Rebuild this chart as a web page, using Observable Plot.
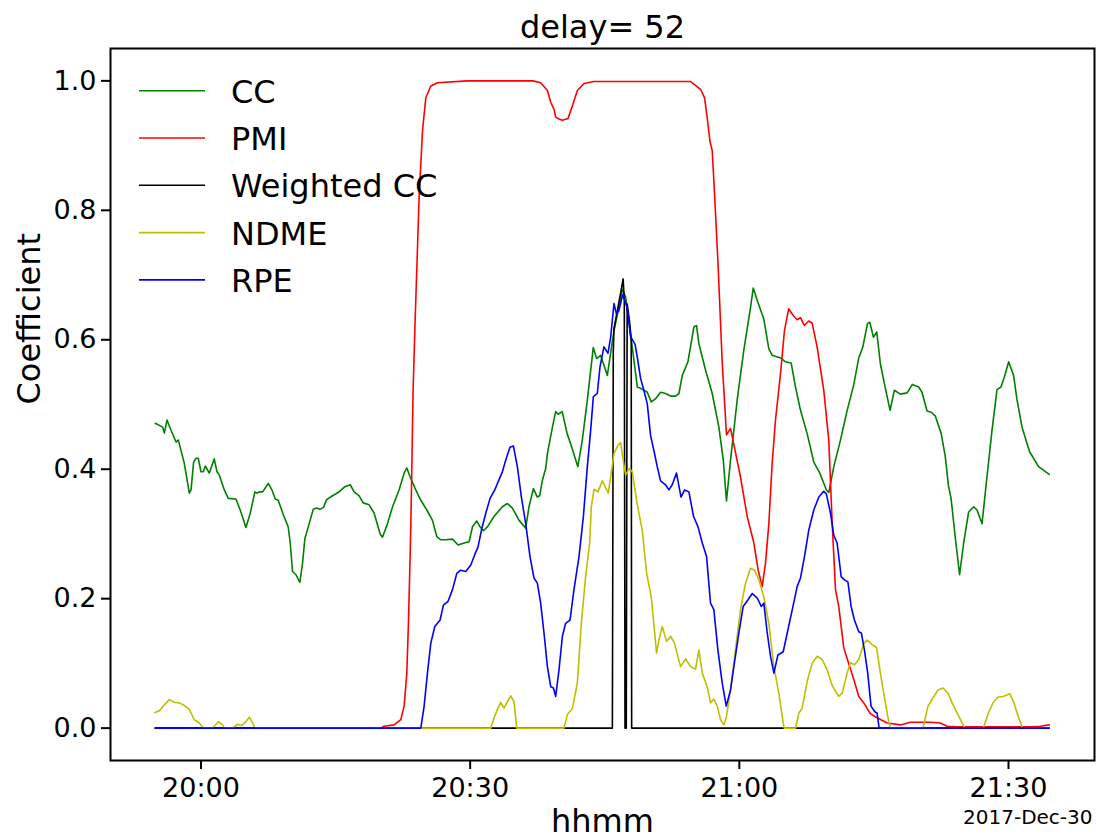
<!DOCTYPE html>
<html>
<head>
<meta charset="utf-8">
<script src="https://cdn.jsdelivr.net/npm/d3@7"></script>
<script src="https://cdn.jsdelivr.net/npm/@observablehq/plot@0.6"></script>
<style>
  html, body { margin: 0; padding: 0; background: white; }
  svg { display: block; }
</style>
</head>
<body>
<script>
// time: minutes relative to 20:00 on 2017-Dec-30; value: coefficient
const ccData = [[-5.1,0.471],[-4.27,0.465],[-4.08,0.456],[-3.79,0.476],[-3.42,0.463],[-2.78,0.442],[-2.52,0.445],[-1.86,0.409],[-1.3,0.363],[-1.11,0.368],[-0.82,0.411],[-0.56,0.417],[-0.3,0.417],[0.0,0.396],[0.26,0.396],[0.48,0.405],[0.93,0.394],[1.48,0.416],[1.78,0.396],[2.04,0.391],[2.6,0.368],[3.04,0.355],[3.9,0.354],[4.45,0.334],[5.01,0.310],[5.49,0.332],[6.01,0.365],[6.24,0.363],[6.5,0.365],[6.87,0.365],[7.5,0.378],[7.91,0.368],[8.28,0.354],[8.61,0.352],[9.2,0.329],[9.72,0.311],[9.95,0.286],[10.2,0.242],[10.58,0.237],[11.02,0.225],[11.32,0.255],[11.58,0.293],[12.06,0.316],[12.51,0.338],[12.88,0.340],[13.25,0.338],[13.66,0.341],[14.0,0.353],[14.66,0.359],[15.29,0.364],[16.04,0.373],[16.63,0.376],[17.07,0.365],[17.63,0.359],[18.07,0.348],[18.74,0.345],[19.3,0.332],[19.97,0.300],[20.23,0.295],[20.79,0.316],[21.35,0.342],[22.08,0.368],[22.64,0.394],[22.94,0.402],[23.31,0.388],[23.94,0.368],[24.5,0.352],[25.17,0.337],[25.8,0.321],[26.28,0.296],[26.73,0.291],[27.28,0.291],[28.03,0.292],[28.66,0.283],[29.33,0.286],[29.88,0.288],[30.26,0.311],[30.73,0.320],[31.1,0.311],[31.47,0.305],[31.92,0.311],[32.66,0.327],[33.59,0.342],[34.15,0.347],[34.71,0.340],[35.45,0.321],[36.19,0.309],[36.56,0.342],[37.05,0.370],[37.49,0.357],[37.75,0.359],[38.05,0.383],[38.42,0.401],[38.61,0.424],[39.17,0.465],[39.53,0.489],[39.81,0.485],[40.26,0.489],[40.81,0.455],[41.37,0.432],[42.0,0.404],[42.5,0.445],[43.06,0.507],[43.72,0.588],[44.1,0.571],[44.54,0.576],[45.29,0.545],[46.03,0.614],[46.5,0.645],[46.96,0.678],[47.33,0.666],[47.88,0.609],[48.63,0.527],[49.0,0.525],[49.36,0.522],[49.74,0.519],[50.18,0.504],[50.67,0.509],[51.22,0.519],[51.78,0.517],[52.34,0.513],[52.9,0.513],[53.27,0.517],[53.64,0.545],[54.27,0.566],[54.94,0.620],[55.23,0.622],[55.49,0.594],[56.24,0.553],[56.98,0.517],[57.72,0.465],[58.21,0.414],[58.57,0.351],[59.02,0.414],[59.76,0.507],[60.5,0.584],[61.25,0.650],[61.55,0.680],[61.99,0.661],[62.73,0.632],[63.29,0.586],[63.66,0.576],[64.59,0.572],[65.14,0.566],[65.78,0.564],[66.26,0.527],[66.82,0.491],[67.56,0.455],[68.3,0.411],[68.97,0.394],[69.71,0.368],[69.97,0.364],[70.53,0.404],[71.27,0.445],[72.02,0.491],[72.76,0.531],[73.31,0.572],[73.75,0.588],[74.28,0.625],[74.54,0.627],[74.95,0.604],[75.32,0.612],[75.72,0.563],[76.28,0.525],[76.8,0.491],[77.28,0.522],[77.95,0.516],[78.7,0.518],[79.28,0.531],[79.99,0.527],[80.36,0.519],[80.92,0.490],[81.4,0.488],[81.85,0.482],[82.5,0.455],[82.96,0.419],[83.3,0.375],[83.6,0.355],[84.08,0.293],[84.55,0.237],[85.0,0.286],[85.56,0.334],[86.12,0.342],[86.49,0.337],[87.05,0.316],[87.6,0.388],[88.16,0.460],[88.72,0.523],[89.16,0.527],[89.53,0.542],[90.02,0.566],[90.57,0.545],[90.95,0.507],[91.51,0.465],[92.35,0.427],[93.35,0.404],[94.54,0.392]];

const pmiData = [[-5.1,0],[20.0,0],[20.41,0.003],[21.53,0.005],[22.27,0.013],[22.64,0.034],[22.94,0.085],[23.12,0.162],[23.31,0.265],[23.46,0.368],[23.64,0.522],[23.85,0.622],[24.31,0.820],[24.69,0.923],[25.06,0.974],[25.61,0.992],[26.36,0.997],[29.7,1.0],[37.0,1.0],[37.86,0.997],[38.61,0.985],[38.98,0.967],[39.35,0.956],[39.53,0.944],[39.9,0.941],[40.28,0.939],[40.9,0.942],[41.39,0.961],[41.95,0.985],[42.69,0.996],[43.8,0.999],[54.57,0.999],[55.68,0.987],[56.12,0.974],[56.42,0.943],[56.72,0.907],[56.98,0.892],[57.16,0.846],[57.35,0.794],[57.61,0.722],[58.09,0.566],[58.57,0.453],[59.02,0.463],[59.39,0.438],[60.13,0.388],[60.88,0.327],[61.62,0.286],[62.1,0.244],[62.55,0.219],[62.92,0.255],[63.29,0.316],[63.66,0.409],[64.03,0.476],[64.59,0.548],[65.03,0.614],[65.5,0.648],[65.99,0.638],[66.44,0.631],[66.82,0.634],[67.26,0.622],[67.74,0.629],[68.11,0.626],[68.67,0.589],[69.41,0.522],[69.97,0.445],[70.35,0.316],[70.72,0.214],[71.08,0.188],[71.64,0.124],[72.19,0.100],[72.76,0.075],[73.31,0.049],[73.87,0.039],[74.61,0.022],[75.36,0.016],[76.47,0.008],[77.95,0.005],[79.06,0.009],[81.29,0.009],[82.41,0.008],[83.15,0.003],[84.26,0.002],[92.43,0.002],[93.54,0.003],[94.54,0.005]];

const wccData = [[-5.1,0],[45.85,0],[45.95,0.58],[46.03,0.617],[46.4,0.645],[46.77,0.672],[47.05,0.694],[47.18,0.66],[47.26,0],[47.4,0],[47.5,0.655],[47.75,0.63],[47.95,0.6],[48.0,0],[94.54,0]];

const ndmeData = [[-5.12,0.024],[-4.64,0.027],[-4.08,0.036],[-3.53,0.044],[-2.97,0.040],[-2.42,0.039],[-1.86,0.035],[-1.3,0.029],[-0.75,0.013],[-0.19,0.008],[0.11,0.003],[0.25,0],[1.3,0],[1.48,0.003],[1.93,0.010],[2.42,0.005],[2.6,0],[3.5,0],[3.71,0.002],[4.08,0.006],[4.53,0.004],[5.01,0.010],[5.38,0.017],[5.68,0.010],[5.94,0.002],[6.1,0],[32.29,0],[32.59,0.013],[33.04,0.029],[33.4,0.040],[33.77,0.031],[34.15,0.041],[34.52,0.050],[34.89,0.041],[35.19,0],[40.46,0],[40.83,0.021],[41.39,0.030],[41.95,0.070],[42.39,0.162],[42.87,0.234],[43.32,0.286],[43.5,0.342],[43.8,0.369],[44.24,0.365],[44.73,0.382],[45.4,0.363],[46.03,0.424],[46.47,0.437],[46.77,0.441],[47.1,0.410],[47.33,0.391],[47.7,0.401],[48.07,0.396],[48.63,0.345],[49.18,0.306],[49.67,0.239],[50.18,0.203],[50.78,0.116],[51.04,0.136],[51.41,0.157],[51.89,0.134],[52.34,0.142],[52.78,0.131],[53.45,0.095],[54.01,0.107],[54.57,0.095],[55.12,0.091],[55.49,0.121],[55.87,0.085],[56.42,0.064],[56.79,0.039],[57.16,0.045],[57.54,0.034],[57.91,0.013],[58.28,0.005],[58.57,0.018],[59.02,0.059],[59.57,0.121],[60.13,0.183],[60.69,0.224],[61.25,0.247],[61.69,0.244],[62.18,0.229],[62.73,0.203],[63.29,0.162],[63.85,0.095],[64.4,0.054],[64.89,0.008],[65.0,0],[66.26,0],[66.63,0.023],[67.0,0.031],[67.56,0.072],[68.11,0.100],[68.67,0.111],[69.23,0.106],[69.79,0.090],[70.35,0.066],[70.8,0.055],[71.08,0.049],[71.46,0.054],[72.02,0.085],[72.38,0.101],[72.83,0.098],[73.31,0.106],[73.87,0.131],[74.25,0.136],[74.8,0.129],[75.28,0.125],[75.72,0.085],[76.28,0.039],[76.65,0.010],[76.84,0],[80.47,0],[81.03,0.034],[81.59,0.047],[82.14,0.059],[82.7,0.062],[83.26,0.054],[83.82,0.036],[84.37,0.021],[85.12,0],[87.19,0],[87.75,0.023],[88.3,0.040],[88.86,0.048],[89.42,0.049],[90.16,0.053],[90.6,0.039],[91.09,0.018],[91.57,0],[94.54,0]];

const rpeData = [[-5.1,0],[24.5,0],[24.87,0.034],[25.24,0.085],[25.61,0.131],[26.06,0.157],[26.65,0.167],[27.02,0.190],[27.54,0.196],[28.03,0.214],[28.51,0.239],[28.95,0.244],[29.51,0.242],[30.07,0.252],[30.51,0.268],[30.88,0.280],[31.26,0.306],[31.74,0.332],[32.22,0.355],[32.74,0.368],[33.22,0.384],[33.59,0.396],[33.96,0.414],[34.44,0.434],[34.82,0.436],[35.26,0.404],[35.71,0.357],[36.19,0.316],[36.67,0.265],[37.11,0.232],[37.49,0.224],[37.86,0.193],[38.23,0.147],[38.61,0.095],[38.98,0.064],[39.28,0.062],[39.53,0.049],[39.9,0.090],[40.28,0.142],[40.64,0.162],[41.13,0.167],[41.57,0.214],[42.13,0.265],[42.62,0.327],[43.06,0.404],[43.43,0.460],[43.73,0.512],[44.17,0.517],[44.47,0.558],[44.91,0.589],[45.36,0.579],[45.66,0.604],[46.03,0.656],[46.3,0.640],[46.58,0.645],[47.0,0.670],[47.5,0.650],[47.88,0.605],[48.38,0.593],[48.63,0.573],[49.0,0.540],[49.36,0.522],[49.74,0.501],[50.11,0.452],[50.48,0.429],[50.85,0.404],[51.22,0.382],[51.78,0.376],[52.15,0.368],[52.52,0.376],[53.0,0.394],[53.5,0.357],[53.9,0.368],[54.38,0.365],[54.9,0.327],[55.4,0.311],[55.87,0.286],[56.35,0.265],[56.79,0.193],[57.16,0.183],[57.61,0.121],[58.09,0.070],[58.54,0.034],[59.02,0.059],[59.39,0.095],[59.95,0.147],[60.43,0.188],[60.95,0.198],[61.44,0.208],[62.0,0.201],[62.44,0.188],[62.73,0.193],[63.11,0.147],[63.48,0.111],[63.85,0.085],[64.3,0.113],[64.89,0.118],[65.34,0.147],[65.9,0.183],[66.45,0.219],[66.82,0.232],[67.26,0.265],[67.74,0.306],[68.3,0.337],[68.86,0.357],[69.4,0.366],[69.7,0.362],[70.16,0.332],[70.53,0.298],[70.9,0.286],[71.35,0.234],[71.72,0.229],[72.1,0.226],[72.46,0.188],[72.83,0.167],[73.31,0.149],[73.6,0.147],[73.94,0.121],[74.31,0.085],[74.68,0.034],[75.06,0.026],[75.36,0.023],[75.58,0],[94.54,0]];

const seriesNames = ["CC", "PMI", "Weighted CC", "NDME", "RPE"];
const seriesColors = ["#008000", "#ff0000", "#000000", "#bfbf00", "#0000ff"];
const seriesData = [ccData, pmiData, wccData, ndmeData, rpeData];

const xTicks = [0, 30, 60, 90];
const xTickLabels = ["20:00", "20:30", "21:00", "21:30"];
const yTicks = [0, 0.2, 0.4, 0.6, 0.8, 1.0];

const titleText = "delay= 52";
const xLabel = "hhmm";
const yLabel = "Coefficient";
const dateText = "2017-Dec-30";

const FONT = "DejaVu Sans";

const lineMarks = seriesData.map((data, i) =>
  Plot.line(data, {x: d => d[0], y: d => d[1], stroke: seriesColors[i], strokeWidth: 1.6})
);

const chart = Plot.plot({
  width: 1096,
  height: 839,
  marginLeft: 110,
  marginRight: 2,
  marginTop: 48,
  marginBottom: 79,
  style: {fontFamily: FONT, background: "white", color: "black", overflow: "visible"},
  x: {type: "linear", domain: [-10.085, 99.585]},
  y: {domain: [-0.05, 1.05]},
  marks: [
    ...lineMarks,
    Plot.frame({stroke: "black", strokeWidth: 2}),
    Plot.axisY(yTicks, {tickSize: 9, tickPadding: 5, fontSize: 27, tickFormat: d3.format(".1f"), label: null, strokeWidth: 2}),
    Plot.axisX(xTicks, {tickSize: 9, tickPadding: 8, fontSize: 27, tickFormat: d => xTickLabels[xTicks.indexOf(d)], label: null, strokeWidth: 2}),
    Plot.text([titleText], {text: d => d, frameAnchor: "top", dy: -11, lineAnchor: "bottom", fontSize: 32}),
    Plot.text([yLabel], {text: d => d, frameAnchor: "left", dx: -81, rotate: -90, fontSize: 32}),
    Plot.text([xLabel], {text: d => d, frameAnchor: "bottom", dy: 71, lineAnchor: "bottom", fontSize: 32}),
    Plot.text([dateText], {text: d => d, frameAnchor: "bottom-right", dx: -2, dy: 63, textAnchor: "end", lineAnchor: "bottom", fontSize: 20})
  ]
});

document.body.appendChild(chart);

// legend (no frame), upper left inside axes
const svg = d3.select(chart);
const lg = svg.append("g").attr("font-family", FONT).attr("font-size", 32).attr("text-anchor", "start");
seriesNames.forEach((name, i) => {
  const y = 90.7 + 47.3 * i;
  lg.append("line").attr("x1", 139).attr("x2", 205).attr("y1", y).attr("y2", y)
    .attr("stroke", seriesColors[i]).attr("stroke-width", 1.6);
  lg.append("text").attr("x", 231).attr("y", y + 12).attr("fill", "black")
    .attr("text-anchor", "start").text(name);
});
</script>
</body>
</html>
